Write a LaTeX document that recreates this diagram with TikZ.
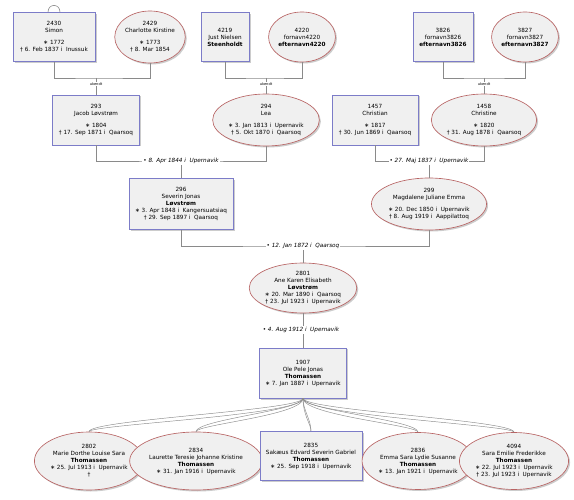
\documentclass[tikz,border=0pt]{standalone}
\usepackage{fontspec}
\setmainfont{DejaVu Sans}
\usetikzlibrary{shapes.geometric,shadows}
\definecolor{boxfill}{HTML}{F0F0F0}
\definecolor{boxline}{HTML}{7C7CC8}
\definecolor{ellline}{HTML}{B86464}
\definecolor{connc}{HTML}{8A8A8A}
\begin{document}
\begin{tikzpicture}[x=1pt,y=-1pt,
  font=\fontsize{5.7}{7}\selectfont,
  person/.style={align=center, inner sep=0pt, fill=boxfill, line width=0.65pt,
    drop shadow={shadow xshift=1.5pt,shadow yshift=-1.5pt,fill=black,opacity=0.2}},
  male/.style={person, rectangle, draw=boxline},
  female/.style={person, ellipse, draw=ellline},
  conn/.style={draw=connc, line width=0.6pt},
  kid/.style={draw=connc, line width=0.45pt},
  wedlabel/.style={fill=white, inner sep=1pt, font=\fontsize{5.7}{7}\selectfont\itshape},
  unklabel/.style={fill=white, inner sep=0.4pt, font=\fontsize{3.6}{4}\selectfont}]
\fill[white] (0,0) rectangle (574,500);
\useasboundingbox (0,0) rectangle (574,500);

% row 1
\node[male, minimum width=82pt, minimum height=49pt] (n2430) at (54,37)
  {2430\\Simon\\[5pt]∗ 1772\\† 6. Feb 1837 i\ \ Inussuk};
\node[female, minimum width=63pt, minimum height=52pt] (n2429) at (150,37)
  {2429\\Charlotte Kirstine\\[5pt]∗ 1773\\† 8. Mar 1854};
\node[male, minimum width=48pt, minimum height=49pt] (n4219) at (225,37)
  {4219\\Just Nielsen\\\textbf{Steenholdt}};
\node[female, minimum width=60pt, minimum height=50pt] (n4220) at (302,37)
  {4220\\fornavn4220\\\textbf{efternavn4220}};
\node[male, minimum width=60pt, minimum height=49pt] (n3826) at (443,37)
  {3826\\fornavn3826\\\textbf{efternavn3826}};
\node[female, minimum width=61pt, minimum height=50pt] (n3827) at (525,37)
  {3827\\fornavn3827\\\textbf{efternavn3827}};

% row 2
\node[male, minimum width=87pt, minimum height=50pt] (n293) at (96,120)
  {293\\Jacob Løvstrøm\\[5pt]∗ 1804\\† 17. Sep 1871 i\ \ Qaarsoq};
\node[female, minimum width=87pt, minimum height=52pt] (n294) at (266,120)
  {294\\Lea\\[5pt]∗ 3. Jan 1813 i\ \ Upernavik\\† 5. Okt 1870 i\ \ Qaarsoq};
\node[male, minimum width=86pt, minimum height=50pt] (n1457) at (375,120)
  {1457\\Christian\\[5pt]∗ 1817\\† 30. Jun 1869 i\ \ Qaarsoq};
\node[female, minimum width=89pt, minimum height=52pt] (n1458) at (484,120)
  {1458\\Christine\\[5pt]∗ 1820\\† 31. Aug 1878 i\ \ Qaarsoq};

% row 3
\node[male, minimum width=104pt, minimum height=51pt] (n296) at (181,204)
  {296\\Severin Jonas\\\textbf{Løvstrøm}\\∗ 3. Apr 1848 i\ \ Kangersuatsiaq\\† 29. Sep 1897 i\ \ Qaarsoq};
\node[female, minimum width=90pt, minimum height=52pt] (n299) at (429,204)
  {299\\Magdalene Juliane Emma\\[5pt]∗ 20. Dec 1850 i\ \ Upernavik\\† 8. Aug 1919 i\ \ Aappilattoq};

% row 4, 5
\node[female, minimum width=89pt, minimum height=50pt] (n2801) at (303,288)
  {2801\\Ane Karen Elisabeth\\\textbf{Løvstrøm}\\∗ 20. Mar 1890 i\ \ Qaarsoq\\† 23. Jul 1923 i\ \ Upernavik};
\node[male, minimum width=87pt, minimum height=50pt] (n1907) at (303,373)
  {1907\\Ole Pele Jonas\\\textbf{Thomassen}\\∗ 7. Jan 1887 i\ \ Upernavik};

% children
\node[female, minimum width=85pt, minimum height=58pt] (n2802) at (89,461)
  {2802\\Marie Dorthe Louise Sara\\\textbf{Thomassen}\\∗ 25. Jul 1913 i\ \ Upernavik\\†};
\node[female, minimum width=104pt, minimum height=58pt] (n2834) at (196,461)
  {2834\\Laurette Teresie Johanne Kristine\\\textbf{Thomassen}\\∗ 31. Jan 1916 i\ \ Upernavik};
\node[male, minimum width=102pt, minimum height=49pt] (n2835) at (311,456)
  {2835\\Sakæus Edvard Severin Gabriel\\\textbf{Thomassen}\\∗ 25. Sep 1918 i\ \ Upernavik};
\node[female, minimum width=89pt, minimum height=57pt] (n2836) at (418,461)
  {2836\\Emma Sara Lydie Susanne\\\textbf{Thomassen}\\∗ 13. Jan 1921 i\ \ Upernavik};
\node[female, minimum width=88pt, minimum height=57pt] (n4094) at (514,461)
  {4094\\Sara Emilie Frederikke\\\textbf{Thomassen}\\∗ 22. Jul 1923 i\ \ Upernavik\\† 23. Jul 1923 i\ \ Upernavik};

% marriage points
\coordinate (m1) at (96,78);
\coordinate (m2) at (266,78);
\coordinate (m3) at (484,78);
\coordinate (m4) at (181,161);
\coordinate (m5) at (429,161);
\coordinate (m6) at (303,246);

\draw[conn] ([xshift=-6pt]n2430.north) .. controls +(0,-9) and +(0,-9) .. ([xshift=6pt]n2430.north);
\draw[conn] (n2430.south) |- (m1) -| (n2429.south);
\draw[conn] (m1) -- (n293.north);
\draw[conn] (n4219.south) |- (m2) -| (n4220.south);
\draw[conn] (m2) -- (n294.north);
\draw[conn] (n3826.south) |- (m3) -| (n3827.south);
\draw[conn] (m3) -- (n1458.north);
\draw[conn] (n293.south) |- (m4) -| (n294.south);
\draw[conn] (m4) -- (n296.north);
\draw[conn] (n1457.south) |- (m5) -| (n1458.south);
\draw[conn] (m5) -- (n299.north);
\draw[conn] (n296.south) |- (m6) -| (n299.south);
\draw[conn] (m6) -- (n2801.north);
\draw[conn] (n2801.south) -- (n1907.north);
\foreach \c in {n2802,n2834,n2835,n2836,n4094}{
  \draw[kid] (n1907.south) .. controls +(0,12) and +(0,-12) .. (\c.north);
  \draw[kid] (n1907.south) .. controls +(0,17) and +(0,-7) .. (\c.north);
}

\node[unklabel] (u1) at (96,84) {ukendt};
\node[unklabel] (u2) at (266,84) {ukendt};
\node[unklabel] (u3) at (484,84) {ukendt};
\node[wedlabel] (w1) at (181,161) {• 8. Apr 1844 i\ \ Upernavik};
\node[wedlabel] (w2) at (429,161) {• 27. Maj 1837 i\ \ Upernavik};
\node[wedlabel] (w3) at (303,246) {• 12. Jan 1872 i\ \ Qaarsoq};
\node[wedlabel] (w4) at (301,330) {• 4. Aug 1912 i\ \ Upernavik};
\end{tikzpicture}
\end{document}
